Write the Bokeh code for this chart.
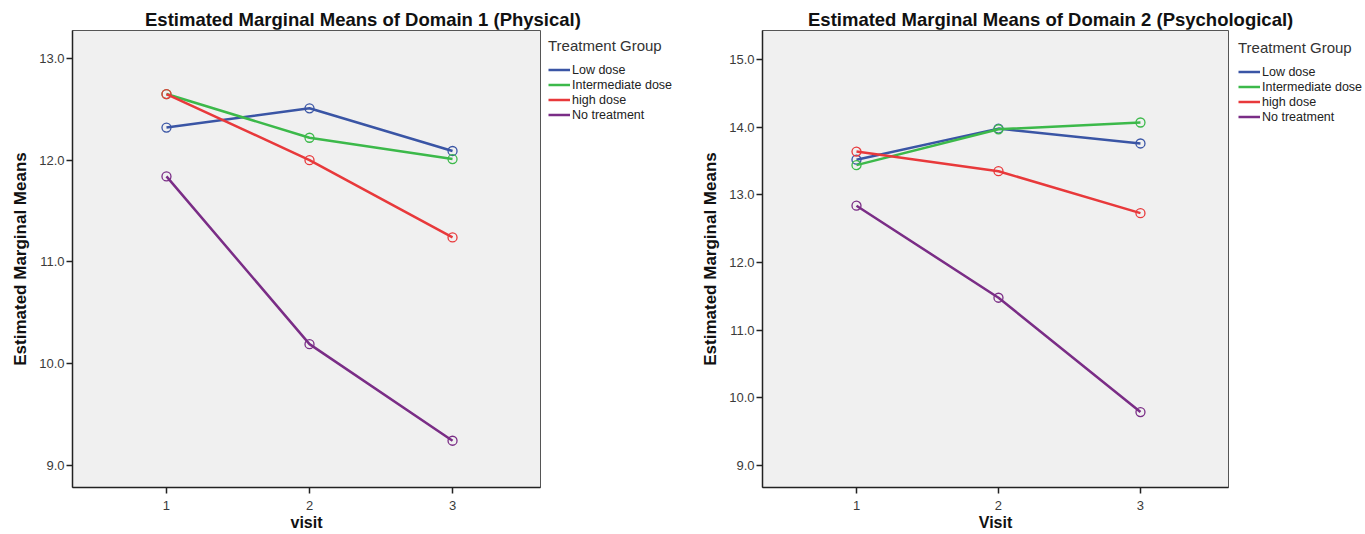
from bokeh.plotting import figure
from bokeh.models import Range1d, FixedTicker, PrintfTickFormatter, Legend, LegendItem, Div
from bokeh.layouts import row, column
from bokeh.embed import file_html
from bokeh.resources import INLINE

visits = [1, 2, 3]
groups = ["Low dose", "Intermediate dose", "high dose", "No treatment"]
colors = ["#3a55a5", "#3cb94a", "#e8393b", "#7a2d86"]

# Domain 1 (Physical)
d1_title = "Estimated Marginal Means of Domain 1 (Physical)"
d1_xlabel = "visit"
d1_low = [12.32, 12.51, 12.09]
d1_inter = [12.65, 12.22, 12.01]
d1_high = [12.65, 12.00, 11.24]
d1_none = [11.84, 10.19, 9.24]
d1_ticks = [9, 10, 11, 12, 13]

# Domain 2 (Psychological)
d2_title = "Estimated Marginal Means of Domain 2 (Psychological)"
d2_xlabel = "Visit"
d2_low = [13.52, 13.98, 13.76]
d2_inter = [13.44, 13.97, 14.07]
d2_high = [13.64, 13.35, 12.73]
d2_none = [12.84, 11.48, 9.79]
d2_ticks = [9, 10, 11, 12, 13, 14, 15]

legend_title = "Treatment Group"
y_label = "Estimated Marginal Means"

FONT = "Liberation Sans"
FRAME_H = 457
ROW_H = 505
TITLE_H = 29


def make_title(text, width, pad_left):
    html = ('<div style="margin-left:%dpx;margin-top:9px;font-family:\'Liberation Sans\';'
            'font-size:18.5px;font-weight:bold;color:#111111;white-space:nowrap;'
            'line-height:21px">%s</div>' % (pad_left, text))
    return Div(text=html, width=width, height=TITLE_H, margin=0)


def make_plot(xlabel, series, yticks, yr, xr, frame_w):
    width = 72 + frame_w + 1
    p = figure(width=width, height=ROW_H, output_backend="svg", toolbar_location=None,
               x_range=Range1d(*xr), y_range=Range1d(*yr),
               min_border_left=72, min_border_right=1,
               min_border_top=1, min_border_bottom=ROW_H - 1 - FRAME_H)
    p.margin = 0
    p.background_fill_color = "#f0f0f0"
    p.border_fill_color = "white"
    p.outline_line_color = "#555555"
    p.outline_line_width = 1
    p.xgrid.visible = False
    p.ygrid.visible = False

    for ax in (p.xaxis[0], p.yaxis[0]):
        ax.axis_line_color = "#222222"
        ax.axis_line_width = 1.5
        ax.major_tick_line_color = "#222222"
        ax.major_tick_line_width = 1.5
        ax.major_tick_in = 0
        ax.major_tick_out = 6
        ax.minor_tick_line_color = None
        ax.major_label_text_font = FONT
        ax.major_label_text_font_size = "13px"
        ax.major_label_text_color = "#3a3a3a"
        ax.axis_label_text_font = FONT
        ax.axis_label_text_font_style = "bold"
        ax.axis_label_text_color = "#111111"

    p.xaxis.ticker = FixedTicker(ticks=visits)
    p.xaxis.axis_label = xlabel
    p.xaxis.axis_label_text_font_size = "16px"
    p.xaxis.major_label_standoff = 7
    p.xaxis.axis_label_standoff = 1
    p.yaxis.ticker = FixedTicker(ticks=yticks)
    p.yaxis.formatter = PrintfTickFormatter(format="%.1f")
    p.yaxis.axis_label = y_label
    p.yaxis.axis_label_text_font_size = "17px"
    p.yaxis.major_label_standoff = 2
    p.yaxis.axis_label_standoff = 6

    for vals, col in zip(series, colors):
        p.line(visits, vals, line_color=col, line_width=2.5)
        p.scatter(visits, vals, size=9, marker="circle", fill_color=None,
                  line_color=col, line_width=1.3)
    return p


def make_legend(width, series, m):
    # separate panel holding the legend; its lines lie outside its ranges
    l = figure(width=width, height=ROW_H, output_backend="svg", toolbar_location=None,
               x_axis_type=None, y_axis_type=None,
               x_range=Range1d(100, 101), y_range=Range1d(100, 101), min_border=0)
    l.margin = 0
    l.outline_line_color = None
    l.background_fill_color = "white"
    l.xgrid.visible = False
    l.ygrid.visible = False
    items = []
    for name, vals, col in zip(groups, series, colors):
        r = l.line(visits, vals, line_color=col, line_width=2.5)
        items.append(LegendItem(label=name, renderers=[r]))
    leg = Legend(items=items, location="top_left", title=legend_title,
                 border_line_color=None, background_fill_alpha=0,
                 margin=m, padding=0, spacing=0, label_height=15, glyph_height=15,
                 glyph_width=22, label_standoff=2,
                 label_text_font=FONT, label_text_font_size="12.5px", label_text_color="#222222",
                 title_text_font=FONT, title_text_font_size="15px", title_text_color="#333333",
                 title_text_font_style="normal", title_standoff=8)
    l.add_layout(leg)
    return l


d1_series = [d1_low, d1_inter, d1_high, d1_none]
d2_series = [d2_low, d2_inter, d2_high, d2_none]

t1 = make_title(d1_title, 690, 145)
t2 = make_title(d2_title, 675, 118)
p1 = make_plot(d1_xlabel, d1_series, d1_ticks, (8.78, 13.275), (0.343, 3.615), 468)
l1 = make_legend(690 - p1.width, d1_series, 7)
p2 = make_plot(d2_xlabel, d2_series, d2_ticks, (8.675, 15.43), (0.338, 3.62), 466)
l2 = make_legend(675 - p2.width, d2_series, 9)

layout = column(row(t1, t2, spacing=0), row(p1, l1, p2, l2, spacing=0), spacing=0)
open("out.html", "w").write(file_html(layout, INLINE))
